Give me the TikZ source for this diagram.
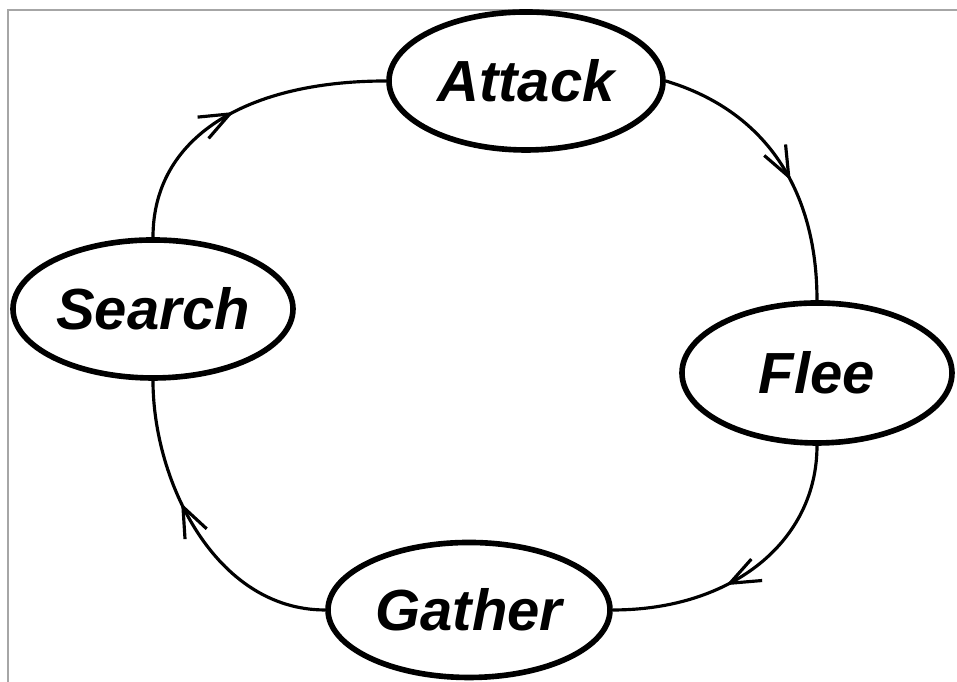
\documentclass[tikz,border=0pt]{standalone}
\usepackage{fontspec}
\setmainfont{Liberation Sans}
\usepackage{tikz}
\usetikzlibrary{shapes}
\usetikzlibrary{arrows.meta}
\usetikzlibrary{decorations,decorations.markings}
\tikzstyle{state}=[ellipse, draw, line width=1.6pt, inner sep=0pt, font=\fontsize{16.5}{18}\selectfont\bfseries\itshape]
\tikzstyle{frame}=[draw=gray!70, line width=.8pt]
\tikzset{flow/.style={line width=.9pt, postaction={decorate},
 decoration={markings, mark=at position #1 with {\arrow{Straight Barb[length=3mm,width=2.4mm]}}}}}

\begin{document}
\begin{tikzpicture}
 \useasboundingbox (0,0) rectangle (9.57,6.82);
 \draw[frame] (.08,0) -- (.08,6.72) -- (9.57,6.72);
%
 \node[state, minimum width=2.74cm, minimum height=1.38cm] (attack) at (5.26,6.01) {Attack};
 \node[state, minimum width=2.80cm, minimum height=1.38cm] (search) at (1.53,3.73) {Search};
 \node[state, minimum width=2.70cm, minimum height=1.40cm] (flee) at (8.17,3.09) {Flee};
 \node[state, minimum width=2.82cm, minimum height=1.35cm] (gather) at (4.69,.72) {Gather};
%
 \draw[flow=.5] (search.north) .. controls +(0,1.0) and +(-1.4,0) .. (attack.west);
 \draw[flow=.57] (attack.east) .. controls +(1.0,-.3) and +(0,1.1) .. (flee.north);
 \draw[flow=.6] (flee.south) .. controls +(0,-.95) and +(1.2,0) .. (gather.east);
 \draw[flow=.6] (gather.west) .. controls +(-1.1,0) and +(0,-1.0) .. (search.south);
\end{tikzpicture}
\end{document}
